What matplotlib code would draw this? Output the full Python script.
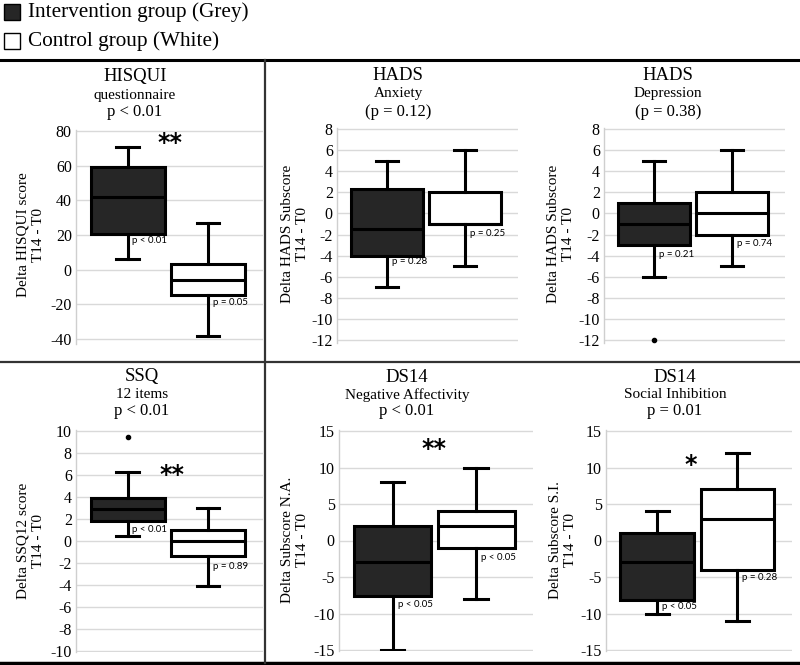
import matplotlib.pyplot as plt
from matplotlib.lines import Line2D
from matplotlib.patches import Rectangle

plt.rcParams['axes.unicode_minus'] = False
plt.rcParams['font.family'] = ['Liberation Serif', 'DejaVu Serif']

W, H = 800, 665

# box stats per group: whisker low, Q1, median, Q3, whisker high
hisqui_int = [6, 20.5, 42, 59, 71]
hisqui_ctl = [-38, -14.5, -6, 3.5, 27]
anx_int = [-7, -4, -1.5, 2.3, 5]
anx_ctl = [-5, -1, -1, 2, 6]
dep_int = [-6, -3, -1, 1, 5]
dep_ctl = [-5, -2, 0, 2, 6]
ssq_int = [0.5, 1.8, 2.9, 3.9, 6.3]
ssq_ctl = [-4.1, -1.4, 0, 1, 3]
na_int = [-15, -7.6, -3, 2, 8]
na_ctl = [-8, -1, 2, 4, 10]
si_int = [-10, -8.2, -3, 1, 4]
si_ctl = [-11, -4, 3, 7, 12]

# outliers (intervention, control)
dep_out = ([-12], [])
ssq_out = ([9.5], [])

titles = [
    ('HISQUI', 'questionnaire', 'p < 0.01'),
    ('HADS', 'Anxiety', '(p = 0.12)'),
    ('HADS', 'Depression', '(p = 0.38)'),
    ('SSQ', '12 items', 'p < 0.01'),
    ('DS14', 'Negative Affectivity', 'p < 0.01'),
    ('DS14', 'Social Inhibition', 'p = 0.01'),
]
ylabels = [
    'Delta HISQUI score\nT14 - T0',
    'Delta HADS Subscore\nT14 - T0',
    'Delta HADS Subscore\nT14 - T0',
    'Delta SSQ12 score\nT14 - T0',
    'Delta Subscore N.A.\nT14 - T0',
    'Delta Subscore S.I.\nT14 - T0',
]
yticks = [
    list(range(-40, 81, 20)),
    list(range(-12, 9, 2)),
    list(range(-12, 9, 2)),
    list(range(-10, 11, 2)),
    list(range(-15, 16, 5)),
    list(range(-15, 16, 5)),
]
p_int = ['p < 0.01', 'p = 0.28', 'p = 0.21', 'p < 0.01', 'p < 0.05', 'p < 0.05']
p_ctl = ['p = 0.05', 'p = 0.25', 'p = 0.74', 'p = 0.89', 'p < 0.05', 'p = 0.28']
p_int_y = [17, -4.6, -3.9, 1.0, -8.7, -9.0]
p_ctl_y = [-19, -1.9, -2.9, -2.3, -2.3, -5.0]
stars = ['**', '', '', '**', '**', '*']
star_xy = [(1.53, 73), None, None, (1.55, 6), (1.5, 12.5), (1.42, 10.3)]

stats = [
    (hisqui_int, hisqui_ctl, ([], [])),
    (anx_int, anx_ctl, ([], [])),
    (dep_int, dep_ctl, dep_out),
    (ssq_int, ssq_ctl, ssq_out),
    (na_int, na_ctl, ([], [])),
    (si_int, si_ctl, ([], [])),
]

# layout in pixels: left, right, pixel of top tick, pixel of bottom tick, extra below
geom = [
    (76, 263, 131, 339, 5),
    (337, 518, 129, 340, 3),
    (604, 785, 129, 340, 3),
    (76, 263, 431, 651, 1),
    (339, 533, 431, 650, 1),
    (606, 792, 431, 650, 1),
]
title_x = [135, 398, 668, 142, 407, 675]
title_y = [(77, 95, 112), (75, 93, 112), (75, 93, 112),
           (377, 395, 411), (377, 395, 411), (377, 395, 411)]
ylabel_x = [31, 295, 561, 31, 295, 563]

fig = plt.figure(figsize=(W / 100, H / 100), dpi=100)


def box(vals, outl):
    return dict(whislo=vals[0], q1=vals[1], med=vals[2], q3=vals[3],
                whishi=vals[4], fliers=outl)


for i in range(6):
    left, right, ptop, pbot, extra = geom[i]
    tk = yticks[i]
    scale = (pbot - ptop) / (tk[-1] - tk[0])
    top_px = ptop - 1
    bot_px = pbot + extra
    lo = tk[0] - (bot_px - pbot) / scale
    hi = tk[-1] + (ptop - top_px) / scale
    ax = fig.add_axes([left / W, 1 - bot_px / H, (right - left) / W, (bot_px - top_px) / H])
    a, c, outl = stats[i]
    b = ax.bxp([box(a, outl[0]), box(c, outl[1])], positions=[1, 2], widths=0.92,
               patch_artist=True, capwidths=0.28,
               boxprops=dict(edgecolor='black', linewidth=2.2),
               whiskerprops=dict(color='black', linewidth=2.2),
               capprops=dict(color='black', linewidth=2.2),
               medianprops=dict(color='black', linewidth=2.2),
               flierprops=dict(marker='o', markersize=3, markerfacecolor='black',
                               markeredgecolor='black'))
    b['boxes'][0].set_facecolor('#262626')
    b['boxes'][1].set_facecolor('white')
    ax.set_xlim(0.36, 2.68)
    ax.set_ylim(lo, hi)
    ax.set_yticks(tk)
    ax.set_yticklabels([str(t) for t in tk], fontsize=11.5)
    ax.set_xticks([])
    ax.tick_params(axis='y', length=0, pad=3)
    ax.grid(axis='y', color='#d9d9d9', linewidth=1)
    ax.set_axisbelow(True)
    for s in ['top', 'right', 'bottom']:
        ax.spines[s].set_visible(False)
    ax.spines['left'].set_color('#cfcfcf')
    ax.spines['left'].set_linewidth(1)

    ax.text(1.06, p_int_y[i], p_int[i], fontsize=7, family='Lato', ha='left', va='center')
    ax.text(2.06, p_ctl_y[i], p_ctl[i], fontsize=7, family='Lato', ha='left', va='center')
    if stars[i]:
        ax.text(star_xy[i][0], star_xy[i][1], stars[i], fontsize=17, family='DejaVu Sans',
                fontweight='bold', ha='center', va='center')

    t1, t2, t3 = titles[i]
    y1, y2, y3 = title_y[i]
    fig.text(title_x[i] / W, 1 - y1 / H, t1, fontsize=13.5, ha='center', va='center')
    fig.text(title_x[i] / W, 1 - y2 / H, t2, fontsize=11, ha='center', va='center')
    fig.text(title_x[i] / W, 1 - y3 / H, t3, fontsize=12, ha='center', va='center')
    fig.text(ylabel_x[i] / W, 1 - ((top_px + pbot) / 2) / H, ylabels[i], fontsize=11,
             rotation=90, ha='center', va='center', linespacing=1.2)

# legend
fig.patches.append(Rectangle((4 / W, 1 - 20 / H), 16 / W, 16 / H, transform=fig.transFigure,
                             facecolor='#262626', edgecolor='black', linewidth=1))
fig.patches.append(Rectangle((4 / W, 1 - 49 / H), 16 / W, 16 / H, transform=fig.transFigure,
                             facecolor='white', edgecolor='black', linewidth=1))
fig.text(28 / W, 1 - 12 / H, 'Intervention group (Grey)', fontsize=15.3, va='center')
fig.text(28 / W, 1 - 41 / H, 'Control group (White)', fontsize=15.3, va='center')

# frame lines
fig.add_artist(Line2D([0, 1], [1 - 60 / H, 1 - 60 / H], transform=fig.transFigure,
                      color='black', linewidth=2.2))
fig.add_artist(Line2D([0, 1], [1 - 362 / H, 1 - 362 / H], transform=fig.transFigure,
                      color='#333333', linewidth=1.6))
fig.add_artist(Line2D([0, 1], [1 - 663 / H, 1 - 663 / H], transform=fig.transFigure,
                      color='black', linewidth=2.5))
fig.add_artist(Line2D([265 / W, 265 / W], [1 - 60 / H, 1 - 663 / H], transform=fig.transFigure,
                      color='#333333', linewidth=1.6))

fig.savefig('out.png', dpi=100)
